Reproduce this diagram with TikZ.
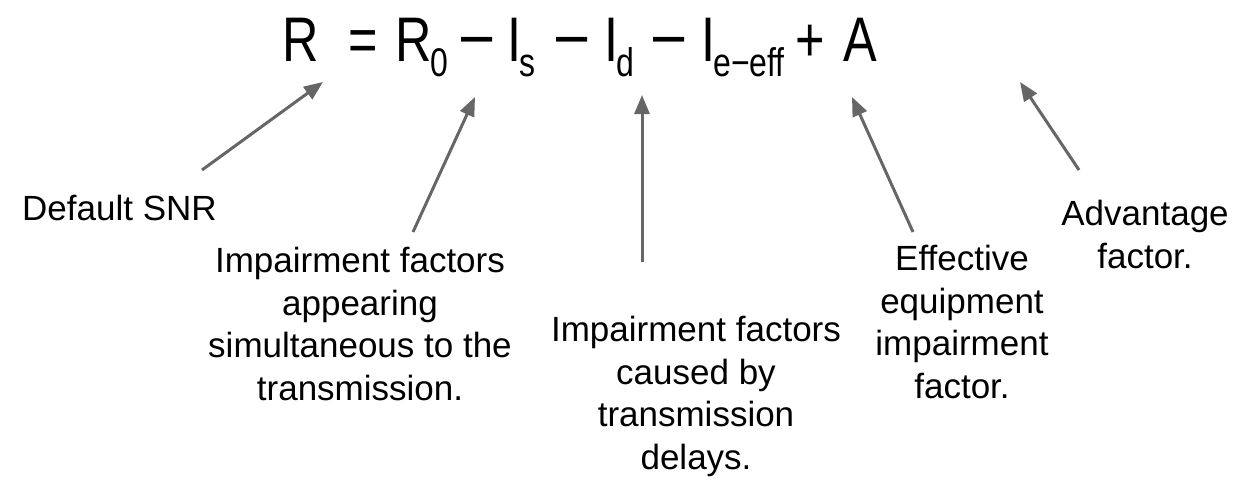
\documentclass[tikz,border=0pt]{standalone}
\usepackage{fontspec}
\setmainfont{Liberation Sans}
\newfontfamily\eqfont[FakeStretch=0.8]{Liberation Sans}
\usetikzlibrary{arrows.meta}
\definecolor{arrowgray}{HTML}{666666}
\newcommand\eqsubtext[1]{\raisebox{-15.5pt}{\eqfont\fontsize{40}{40}\selectfont #1}}
\begin{document}
\begin{tikzpicture}[x=1pt,y=-1pt,
  lbl/.style={inner sep=0pt, align=center, font=\fontsize{35}{42.5}\selectfont},
  eqterm/.style={inner sep=0pt, anchor=base west, font=\eqfont\fontsize{63}{70}\selectfont},
  eqminus/.style={inner sep=0pt, anchor=base west, font=\eqfont\fontsize{70}{70}\selectfont},
  ptr/.style={draw=arrowgray, line width=3pt, -{Triangle[length=19pt,width=15pt]}}]
\useasboundingbox (0,0) rectangle (1236,487);
% equation
\node[eqterm] (eqR) at (282,61.5) {R};
\node[eqterm] (eqEq) at (348.6,61.5) {=};
\node[eqterm] (eqRo) at (395,61.5) {R\kern-1.5pt\eqsubtext{0}};
\node[eqminus] (eqMa) at (461,58) {–};
\node[eqterm] (eqIs) at (507,61.5) {I\kern-2pt\eqsubtext{s}};
\node[eqminus] (eqMb) at (556,58) {–};
\node[eqterm] (eqId) at (604,61.5) {I\kern-2pt\eqsubtext{d}};
\node[eqminus] (eqMc) at (653,58) {–};
\node[eqterm] (eqIe) at (701,61.5) {I\kern-2pt\eqsubtext{e−eff}};
\node[eqterm] (eqPlus) at (795.5,61.5) {+};
\node[eqterm] (eqA) at (843,61.5) {A};
% labels
\node[lbl, anchor=north west] (lblDef) at (22,195) {Default SNR};
\node[lbl, anchor=north] (lblSim) at (360,247) {Impairment factors\\appearing\\simultaneous to the\\transmission.};
\node[lbl, anchor=north] (lblDel) at (696,316) {Impairment factors\\caused by\\transmission\\delays.};
\node[lbl, anchor=north] (lblEff) at (962,245) {Effective\\equipment\\impairment\\factor.};
\node[lbl, anchor=north] (lblAdv) at (1145,200) {Advantage\\factor.};
% arrow ends
\coordinate (tDef) at (202,170);  \coordinate (hDef) at (323,82);
\coordinate (tSim) at (413,232);  \coordinate (hSim) at (475,97);
\coordinate (tDel) at (642,262);  \coordinate (hDel) at (642,95);
\coordinate (tEff) at (913,232);  \coordinate (hEff) at (852,97);
\coordinate (tAdv) at (1079,170); \coordinate (hAdv) at (1020,82);
\draw[ptr] (tDef) -- (hDef);
\draw[ptr] (tSim) -- (hSim);
\draw[ptr] (tDel) -- (hDel);
\draw[ptr] (tEff) -- (hEff);
\draw[ptr] (tAdv) -- (hAdv);
\end{tikzpicture}
\end{document}
